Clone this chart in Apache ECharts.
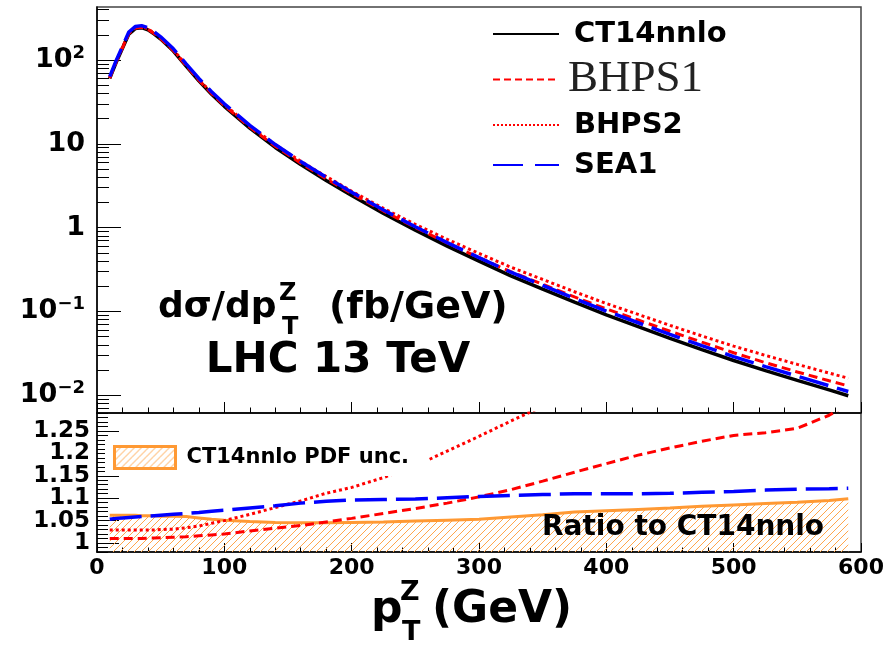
<!DOCTYPE html>
<html>
<head>
<meta charset="utf-8">
<script src="https://cdn.jsdelivr.net/npm/echarts@6/dist/echarts.min.js"></script>
<style>html,body{margin:0;padding:0;background:#fff}#c{width:894px;height:646px}</style>
</head>
<body>
<div id="c"></div>
<script>
// ---- data ----
const pT = [10,15,20,25,30,35,40,45,50,60,70,80,90,100,120,140,160,180,200,225,250,275,300,325,350,375,400,425,450,475,500,525,550,575,590];
const ct14 = [60.3,93.3,138,204,237,243,229,204,178,128,84.5,56.5,39.1,28.0,15.4,9.06,5.66,3.66,2.42,1.48,0.933,0.603,0.398,0.266,0.185,0.129,0.0912,0.0661,0.0479,0.0351,0.0260,0.0197,0.0151,0.0116,0.00989];
const bhps1 = [60.9,94.2,139.4,206,239.4,245.4,231.5,206.2,180.1,129.7,85.7,57.4,39.8,28.56,15.82,9.36,5.88,3.83,2.553,1.578,1.005,0.657,0.439,0.298,0.211,0.149,0.1073,0.0791,0.0581,0.0431,0.0322,0.0245,0.0190,0.0149,0.01296];
const bhps2 = [62.0,96.0,142.0,209.9,243.9,250.0,235.6,209.9,183.3,132.0,87.4,58.6,40.8,29.4,16.39,9.78,6.19,4.07,2.72,1.696,1.093,0.727,0.493,0.338,0.241,0.172,0.1245,0.0922,0.0683,0.0511,0.0386,0.0299,0.0234,0.0184,0.0160];
const sea1 = [63.5,98.4,145.7,215.6,250.7,257.3,242.7,216.4,189.0,136.2,90.1,60.3,41.9,30.0,16.6,9.81,6.16,4.00,2.65,1.624,1.024,0.664,0.439,0.294,0.205,0.143,0.1012,0.0734,0.0532,0.0391,0.0290,0.0220,0.0169,0.0130,0.0111];
// ratios to CT14nnlo
const rPdfUnc = [1.062,1.062,1.062,1.062,1.062,1.061,1.061,1.061,1.060,1.060,1.059,1.056,1.053,1.051,1.048,1.046,1.045,1.045,1.046,1.047,1.049,1.051,1.053,1.058,1.063,1.069,1.072,1.075,1.078,1.082,1.085,1.088,1.091,1.095,1.099];
const rBhps1 = [1.010,1.010,1.010,1.010,1.010,1.010,1.011,1.011,1.012,1.013,1.014,1.016,1.018,1.020,1.027,1.033,1.039,1.047,1.055,1.066,1.077,1.089,1.103,1.119,1.138,1.158,1.177,1.196,1.212,1.227,1.240,1.246,1.256,1.285,1.310];
const rBhps2 = [1.029,1.029,1.029,1.029,1.029,1.029,1.029,1.029,1.030,1.031,1.034,1.038,1.044,1.050,1.064,1.079,1.094,1.111,1.124,1.146,1.172,1.205,1.238,1.272,1.305,1.335,1.365,1.395,1.425,1.455,1.485,1.520,1.550,1.590,1.620];
const rSea1 = [1.053,1.055,1.056,1.057,1.058,1.059,1.060,1.061,1.062,1.064,1.066,1.068,1.071,1.073,1.078,1.083,1.089,1.093,1.096,1.097,1.098,1.101,1.104,1.106,1.108,1.110,1.110,1.110,1.111,1.113,1.115,1.118,1.120,1.121,1.122];
const xTicks = [0,100,200,300,400,500,600];
const logMajor = [0.01,0.1,1,10,100];
const ratioMajor = [1,1.05,1.1,1.15,1.2,1.25];
const ratioLabelsA = [1,1.1,1.2];
const ratioLabelsB = [1.05,1.15,1.25];

// ---- helpers ----
const pairs = (ys) => pT.map((x,i) => [x, ys[i]]);
const logMinor = [];
for (let e = -3; e <= 2; e++) for (let k = 2; k <= 9; k++) { const v = k * Math.pow(10, e); if (v > 0.00615 && v < 429) logMinor.push(+v.toPrecision(3)); }
const ratioMinor = [];
for (let k = 98; k <= 129; k++) { if (k % 5 !== 0) ratioMinor.push(k / 100); }

const pc = document.createElement('canvas'); pc.width = 7; pc.height = 7;
const g = pc.getContext('2d'); g.strokeStyle = '#ffa64d'; g.lineWidth = 1;
[[-1,8,8,-1],[-1,1,1,-1],[6,8,8,6]].forEach(s => { g.beginPath(); g.moveTo(s[0],s[1]); g.lineTo(s[2],s[3]); g.stroke(); });
const hatch = { image: pc, repeat: 'repeat' };

const FONT = 'DejaVu Sans';
const ORANGE = '#ff9933';
const sup = { '-1': '−1', '-2': '−2', '2': '2' };
const hideSym = { opacity: 0 };
const ratioLabel = (vals) => ({ customValues: vals, margin: 7, fontFamily: FONT, fontWeight: 'bold', fontSize: 23, color: '#000',
  showMinLabel: true, showMaxLabel: true, formatter: (v) => String(+v.toFixed(2)) });

const chart = echarts.init(document.getElementById('c'));
const option = {
  animation: false,
  backgroundColor: '#fff',
  grid: [
    { left: 97, right: 33, top: 7, height: 406, show: true, borderColor: '#444', borderWidth: 1.5, backgroundColor: 'transparent' },
    { left: 97, right: 33, top: 413, height: 139, show: true, borderColor: '#444', borderWidth: 1.5, backgroundColor: 'transparent' }
  ],
  xAxis: [
    { type: 'value', gridIndex: 0, min: 0, max: 600, interval: 100,
      axisLine: { lineStyle: { color: '#000', width: 1.5 } },
      axisTick: { inside: true, length: 11, lineStyle: { color: '#000' } },
      minorTick: { show: true, splitNumber: 5, length: 5.5, lineStyle: { color: '#000' } },
      axisLabel: { show: false }, splitLine: { show: false } },
    { type: 'value', gridIndex: 1, min: 0, max: 600, interval: 100,
      axisLine: { lineStyle: { color: '#000', width: 1.5 } },
      axisTick: { inside: true, length: 9, lineStyle: { color: '#000' } },
      minorTick: { show: true, splitNumber: 5, length: 4.5, lineStyle: { color: '#000' } },
      axisLabel: { fontFamily: FONT, fontWeight: 'bold', fontSize: 22, color: '#000', margin: 5,
        customValues: xTicks, showMinLabel: true, showMaxLabel: true },
      splitLine: { show: false } }
  ],
  yAxis: [
    { type: 'log', logBase: 10, gridIndex: 0, position: 'left', min: 0.00615, max: 429,
      axisLine: { lineStyle: { color: '#000', width: 1.5 } },
      axisTick: { inside: true, length: 24, customValues: logMajor, lineStyle: { color: '#000' } },
      axisLabel: { customValues: logMajor, margin: 12, showMinLabel: true, showMaxLabel: true,
        formatter: (v) => { const e = Math.round(Math.log10(v));
          if (e === 0) return '{b|1}'; if (e === 1) return '{b|10}';
          return '{b|10}{s|' + sup[String(e)] + '}'; },
        rich: {
          b: { fontFamily: FONT, fontWeight: 'bold', fontSize: 27, color: '#000', lineHeight: 32 },
          s: { fontFamily: FONT, fontWeight: 'bold', fontSize: 18, color: '#000', lineHeight: 18, verticalAlign: 'top' }
        } },
      splitLine: { show: false } },
    { type: 'log', logBase: 10, gridIndex: 0, position: 'left', offset: 0, min: 0.00615, max: 429,
      axisLine: { show: false },
      axisTick: { inside: true, length: 12, customValues: logMinor, lineStyle: { color: '#000' } },
      axisLabel: { show: false }, splitLine: { show: false } },
    { type: 'value', gridIndex: 1, position: 'left', min: 0.98, max: 1.29,
      axisLine: { lineStyle: { color: '#000', width: 1.5 } },
      axisTick: { inside: true, length: 22, customValues: ratioMajor, lineStyle: { color: '#000' } },
      axisLabel: ratioLabel(ratioLabelsA),
      splitLine: { show: false } },
    { type: 'value', gridIndex: 1, position: 'left', offset: 0, min: 0.98, max: 1.29,
      axisLine: { show: false },
      axisTick: { inside: true, length: 11, customValues: ratioMinor, lineStyle: { color: '#000' } },
      axisLabel: ratioLabel(ratioLabelsB), splitLine: { show: false } }
  ],
  legend: [
    { orient: 'vertical', left: 492, top: 17, padding: 0, itemWidth: 66, itemHeight: 14, itemGap: 6,
      selectedMode: false,
      data: [
        { name: 'CT14nnlo', lineStyle: { width: 2 }, itemStyle: hideSym },
        { name: 'BHPS1', lineStyle: { width: 2, type: [7, 4] }, itemStyle: hideSym },
        { name: 'BHPS2', lineStyle: { width: 2, type: [2, 2] }, itemStyle: hideSym },
        { name: 'SEA1', lineStyle: { width: 2, type: [30, 12] }, itemStyle: hideSym }
      ],
      formatter: (n) => n === 'BHPS1' ? '{serif|BHPS1}' : '{sans|' + n + '}',
      textStyle: { rich: {
        sans: { fontFamily: FONT, fontWeight: 'bold', fontSize: 29, color: '#000', lineHeight: 34, height: 34, padding: [0, 0, 0, 10] },
        serif: { fontFamily: 'Liberation Serif', fontSize: 45, color: '#222', lineHeight: 34, height: 34, padding: [0, 0, 0, 4] }
      } } },
    { orient: 'vertical', left: 105, top: 438, padding: [7, 19, 6, 8], backgroundColor: '#fff',
      itemWidth: 61, itemHeight: 22, selectedMode: false,
      data: [ { name: 'CT14nnlo PDF unc.', icon: 'rect', itemStyle: { color: hatch, borderColor: ORANGE, borderWidth: 3 } } ],
      textStyle: { fontFamily: FONT, fontWeight: 'bold', fontSize: 21, color: '#000', lineHeight: 24, padding: [0, 0, 0, 6] } }
  ],
  series: [
    { name: 'CT14nnlo', type: 'line', xAxisIndex: 0, yAxisIndex: 0, data: pairs(ct14), symbol: 'none',
      lineStyle: { color: '#000', width: 3.5 }, itemStyle: { color: '#000' } },
    { name: 'BHPS1', type: 'line', xAxisIndex: 0, yAxisIndex: 0, data: pairs(bhps1), symbol: 'none',
      lineStyle: { color: '#ff0000', width: 3, type: [9, 5] }, itemStyle: { color: '#ff0000' } },
    { name: 'BHPS2', type: 'line', xAxisIndex: 0, yAxisIndex: 0, data: pairs(bhps2), symbol: 'none',
      lineStyle: { color: '#ff0000', width: 3, type: [3, 3] }, itemStyle: { color: '#ff0000' } },
    { name: 'SEA1', type: 'line', xAxisIndex: 0, yAxisIndex: 0, data: pairs(sea1), symbol: 'none',
      lineStyle: { color: '#0000ff', width: 3.5, type: [30, 9] }, itemStyle: { color: '#0000ff' } },
    { name: 'CT14nnlo PDF unc.', type: 'line', xAxisIndex: 1, yAxisIndex: 2, data: pairs(rPdfUnc), symbol: 'none',
      lineStyle: { color: ORANGE, width: 3 }, itemStyle: { color: ORANGE },
      areaStyle: { color: hatch, origin: 'start', opacity: 1 } },
    { name: 'BHPS1', type: 'line', xAxisIndex: 1, yAxisIndex: 2, data: pairs(rBhps1), symbol: 'none',
      lineStyle: { color: '#ff0000', width: 3, type: [9, 5] }, itemStyle: { color: '#ff0000' } },
    { name: 'BHPS2', type: 'line', xAxisIndex: 1, yAxisIndex: 2, data: pairs(rBhps2), symbol: 'none',
      lineStyle: { color: '#ff0000', width: 3, type: [3, 3] }, itemStyle: { color: '#ff0000' } },
    { name: 'SEA1', type: 'line', xAxisIndex: 1, yAxisIndex: 2, data: pairs(rSea1), symbol: 'none',
      lineStyle: { color: '#0000ff', width: 3.5, type: [32, 9] }, itemStyle: { color: '#0000ff' } }
  ],
  graphic: [
    { type: 'text', z: 100, x: 158, y: 308, style: { text: 'dσ/dp', fontFamily: FONT, fontWeight: 'bold', fontSize: 36, fill: '#000', align: 'left', verticalAlign: 'middle' } },
    { type: 'text', z: 100, x: 279, y: 294, style: { text: 'Z', fontFamily: FONT, fontWeight: 'bold', fontSize: 24, fill: '#000', align: 'left', verticalAlign: 'middle' } },
    { type: 'text', z: 100, x: 282, y: 328, style: { text: 'T', fontFamily: FONT, fontWeight: 'bold', fontSize: 24, fill: '#000', align: 'left', verticalAlign: 'middle' } },
    { type: 'text', z: 100, x: 329, y: 308, style: { text: '(fb/GeV)', fontFamily: FONT, fontWeight: 'bold', fontSize: 38, fill: '#000', align: 'left', verticalAlign: 'middle' } },
    { type: 'text', z: 100, x: 338, y: 361, style: { text: 'LHC 13 TeV', fontFamily: FONT, fontWeight: 'bold', fontSize: 42, fill: '#000', align: 'center', verticalAlign: 'middle' } },
    { type: 'text', z: 100, x: 542, y: 528, style: { text: 'Ratio to CT14nnlo', fontFamily: FONT, fontWeight: 'bold', fontSize: 28, fill: '#000', align: 'left', verticalAlign: 'middle' } },
    { type: 'text', z: 100, x: 371, y: 611, style: { text: 'p', fontFamily: FONT, fontWeight: 'bold', fontSize: 44, fill: '#000', align: 'left', verticalAlign: 'middle' } },
    { type: 'text', z: 100, x: 400, y: 593, style: { text: 'Z', fontFamily: FONT, fontWeight: 'bold', fontSize: 27, fill: '#000', align: 'left', verticalAlign: 'middle' } },
    { type: 'text', z: 100, x: 402, y: 633, style: { text: 'T', fontFamily: FONT, fontWeight: 'bold', fontSize: 27, fill: '#000', align: 'left', verticalAlign: 'middle' } },
    { type: 'text', z: 100, x: 432, y: 611, style: { text: '(GeV)', fontFamily: FONT, fontWeight: 'bold', fontSize: 44, fill: '#000', align: 'left', verticalAlign: 'middle' } }
  ]
};
chart.setOption(option);
</script>
</body>
</html>
